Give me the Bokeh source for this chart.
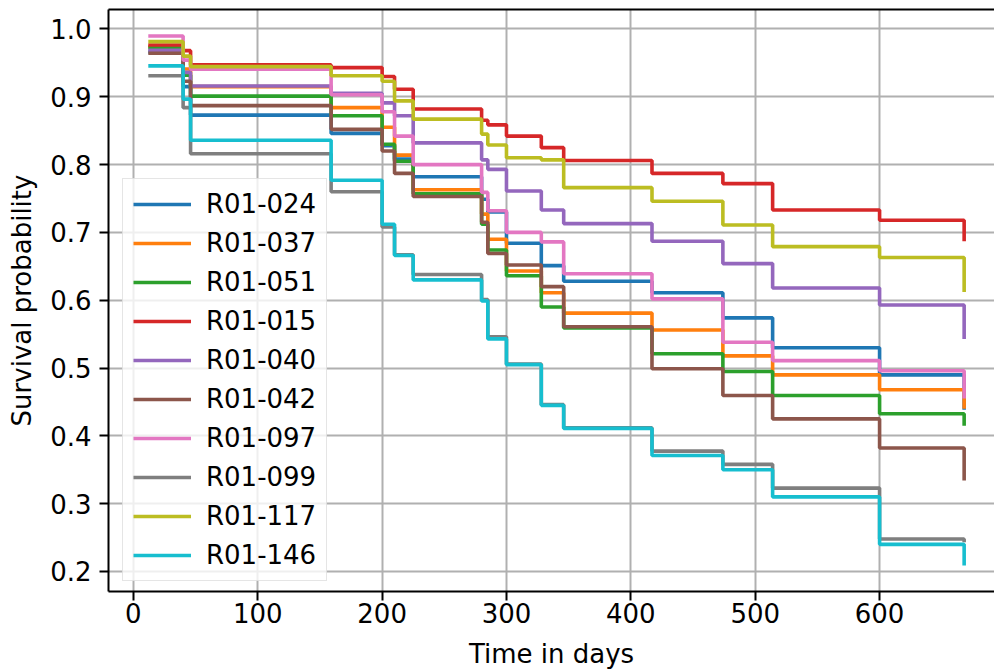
from bokeh.plotting import figure
from bokeh.models import (Range1d, FixedTicker, PrintfTickFormatter, Legend, LegendItem,
                          LinearAxis)
from bokeh.embed import file_html
from bokeh.resources import INLINE

# ---- data ----
times = [12, 40, 46, 159, 200, 210, 225, 280, 285, 300, 328, 346, 417, 474, 514, 600, 668]

names = ["R01-024", "R01-037", "R01-051", "R01-015", "R01-040",
         "R01-042", "R01-097", "R01-099", "R01-117", "R01-146"]

r01_024 = [0.966, 0.915, 0.873, 0.846, 0.828, 0.808, 0.782, 0.749, 0.730, 0.684, 0.651, 0.628, 0.611, 0.574, 0.530, 0.490, 0.4385]
r01_037 = [0.974, 0.941, 0.915, 0.884, 0.855, 0.814, 0.763, 0.727, 0.690, 0.643, 0.611, 0.581, 0.556, 0.518, 0.490, 0.468, 0.440]
r01_051 = [0.9725, 0.932, 0.901, 0.872, 0.830, 0.805, 0.757, 0.712, 0.674, 0.636, 0.590, 0.559, 0.521, 0.495, 0.4595, 0.4325, 0.415]
r01_015 = [0.9764, 0.968, 0.947, 0.943, 0.930, 0.911, 0.882, 0.8655, 0.8586, 0.842, 0.825, 0.806, 0.787, 0.772, 0.733, 0.718, 0.687]
r01_040 = [0.9686, 0.936, 0.916, 0.905, 0.891, 0.872, 0.832, 0.807, 0.793, 0.761, 0.733, 0.713, 0.687, 0.654, 0.618, 0.593, 0.543]
r01_042 = [0.9642, 0.923, 0.887, 0.852, 0.820, 0.787, 0.753, 0.715, 0.669, 0.652, 0.620, 0.561, 0.499, 0.4595, 0.425, 0.382, 0.334]
r01_097 = [0.9897, 0.954, 0.9406, 0.903, 0.878, 0.842, 0.800, 0.759, 0.732, 0.700, 0.686, 0.639, 0.602, 0.538, 0.511, 0.496, 0.455]
r01_099 = [0.931, 0.884, 0.816, 0.760, 0.708, 0.667, 0.638, 0.601, 0.546, 0.506, 0.446, 0.412, 0.3775, 0.358, 0.323, 0.248, 0.243]
r01_117 = [0.9813, 0.960, 0.9445, 0.931, 0.923, 0.894, 0.867, 0.845, 0.829, 0.810, 0.807, 0.766, 0.746, 0.711, 0.679, 0.663, 0.612]
r01_146 = [0.9455, 0.8965, 0.836, 0.777, 0.712, 0.666, 0.630, 0.599, 0.543, 0.505, 0.445, 0.411, 0.371, 0.350, 0.310, 0.240, 0.209]

series = [r01_024, r01_037, r01_051, r01_015, r01_040,
          r01_042, r01_097, r01_099, r01_117, r01_146]

colors = ["#1f77b4", "#ff7f0e", "#2ca02c", "#d62728", "#9467bd",
          "#8c564b", "#e377c2", "#7f7f7f", "#bcbd22", "#17becf"]

x_ticks = [0, 100, 200, 300, 400, 500, 600]
y_ticks = [0.2, 0.3, 0.4, 0.5, 0.6, 0.7, 0.8, 0.9, 1.0]

FONT = "DejaVu Sans"
FS = "26px"

p = figure(width=994, height=671, output_backend="svg", toolbar_location=None,
           x_range=Range1d(-20.0, 692.4), y_range=Range1d(0.1705, 1.0287),
           min_border_left=108, min_border_right=0, min_border_top=9, min_border_bottom=80)

p.outline_line_color = None
p.background_fill_color = "white"
p.border_fill_color = "white"

# grid
for g in (p.xgrid, p.ygrid):
    g.grid_line_color = "#b0b0b0"
    g.grid_line_width = 2
p.xgrid.ticker = FixedTicker(ticks=x_ticks)
p.ygrid.ticker = FixedTicker(ticks=y_ticks)

# axes
p.xaxis.ticker = FixedTicker(ticks=x_ticks)
p.yaxis.ticker = FixedTicker(ticks=y_ticks)
p.yaxis.formatter = PrintfTickFormatter(format="%.1f")
p.xaxis.axis_label = "Time in days"
p.yaxis.axis_label = "Survival probability"
for ax in (p.xaxis, p.yaxis):
    ax.axis_line_width = 2
    ax.axis_line_color = "black"
    ax.major_tick_line_width = 2
    ax.major_tick_out = 9
    ax.major_tick_in = 0
    ax.minor_tick_line_color = None
    ax.major_label_text_font = FONT
    ax.major_label_text_font_size = FS
    ax.major_label_text_color = "black"
    ax.axis_label_text_font = FONT
    ax.axis_label_text_font_size = FS
    ax.axis_label_text_font_style = "normal"
    ax.axis_label_text_color = "black"
p.xaxis.major_label_standoff = 2
p.yaxis.major_label_standoff = 8
p.xaxis.axis_label_standoff = 13
p.yaxis.axis_label_standoff = 10

# top spine
top = LinearAxis(ticker=FixedTicker(ticks=[]), axis_line_width=2, axis_line_color="black",
                 major_tick_out=0, major_tick_in=0, minor_tick_out=0, minor_tick_in=0,
                 major_label_text_font_size="0px", major_label_standoff=0)
p.add_layout(top, "above")

items = []
for name, vals, col in zip(names, series, colors):
    r = p.step(times, vals, mode="after", line_color=col, line_width=3.6)
    items.append(LegendItem(label=name, renderers=[r]))

legend = Legend(items=items, location=(14, 10),
                label_text_font=FONT, label_text_font_size=FS, label_text_color="black",
                glyph_width=58, glyph_height=30, label_height=30, label_standoff=15,
                spacing=9, padding=10, margin=0,
                border_line_color="#cccccc", border_line_width=1.5,
                background_fill_color="white", background_fill_alpha=0.8)
p.add_layout(legend, "center")

open("out.html", "w").write(file_html(p, INLINE))
